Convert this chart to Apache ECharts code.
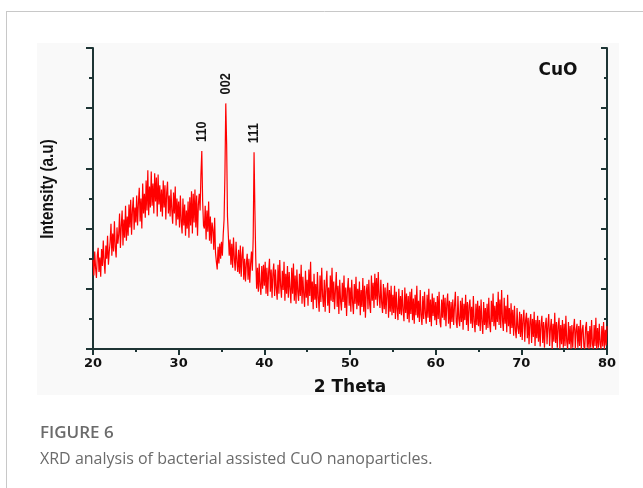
<!DOCTYPE html>
<html>
<head>
<meta charset="utf-8">
<script src="https://cdn.jsdelivr.net/npm/echarts@6/dist/echarts.min.js"></script>
<style>
html,body{margin:0;padding:0;background:#fff;}
#c{width:643px;height:488px;}
</style>
</head>
<body>
<div id="c"></div>
<script>
// ---- data ----
const thetaStart = 20;
const thetaStep = 0.1;
const intensity = [
1.48,1.22,1.62,1.35,1.18,1.55,1.68,1.28,1.52,1.20,
1.66,1.38,1.80,1.45,1.25,1.72,1.50,1.88,1.40,1.62,
1.78,2.08,1.55,1.92,1.62,2.12,1.70,1.52,2.02,1.75,
1.90,2.25,1.68,2.05,2.30,1.72,2.15,1.85,2.38,1.80,
2.20,1.88,2.40,2.02,2.48,1.90,2.30,2.52,1.98,2.35,
2.10,2.55,2.05,2.42,2.68,2.12,2.50,2.00,2.75,2.25,
2.58,2.18,2.80,2.30,2.97,2.22,2.70,2.35,2.95,2.38,
2.75,2.25,2.92,2.45,2.85,2.20,2.90,2.40,2.72,2.28,
2.65,2.20,2.80,2.35,2.72,2.15,2.60,2.78,2.25,2.55,
2.20,2.65,2.30,2.08,2.60,2.25,2.70,2.05,2.50,2.15,
2.45,2.02,2.55,2.12,1.92,2.50,2.05,2.40,1.88,2.30,
2.00,2.45,1.85,2.52,2.05,2.62,1.92,2.58,2.10,2.65,
2.02,2.55,1.88,2.40,2.58,2.30,2.90,3.29,2.45,2.05,
2.00,2.38,1.82,2.30,1.95,2.45,1.80,2.20,1.75,2.10,
1.98,1.65,2.18,1.60,1.45,1.32,1.70,1.42,1.75,1.50,
1.78,1.55,1.90,2.15,2.90,4.08,3.40,2.20,1.88,1.55,
1.82,1.40,1.75,1.35,1.85,1.50,1.30,1.78,1.45,1.28,
1.65,1.25,1.72,1.20,1.55,1.70,1.15,1.50,1.12,1.42,
1.58,1.15,1.50,1.10,1.42,1.62,1.30,1.85,3.27,2.30,
1.50,1.00,1.35,0.95,1.42,1.05,0.90,1.38,1.00,1.40,
1.05,1.45,0.92,1.35,0.88,1.28,1.50,0.95,1.32,0.85,
1.25,1.42,0.88,1.32,1.00,0.82,1.40,0.92,1.48,1.05,
0.85,1.30,0.98,1.45,0.80,1.25,0.92,1.38,0.85,1.28,
1.00,0.76,1.35,0.92,1.42,0.80,1.22,0.75,1.32,0.95,
0.80,1.25,0.88,1.40,0.75,1.20,0.90,0.70,1.30,0.85,
1.15,0.72,1.32,0.88,1.45,0.78,1.12,0.66,1.25,0.82,
1.08,0.68,1.28,0.85,0.62,1.22,0.78,1.35,0.88,0.70,
1.15,0.62,1.05,1.30,0.72,1.02,0.60,1.22,0.80,1.35,
0.78,1.12,0.66,0.98,1.28,0.70,1.05,0.58,1.15,0.80,
0.64,1.10,0.78,1.22,0.68,1.02,0.55,0.98,1.18,0.72,
1.02,0.62,1.15,0.78,0.58,1.08,0.75,1.20,0.66,1.00,
0.72,1.12,0.56,0.98,0.70,1.18,0.62,1.05,0.52,0.96,
1.08,0.66,1.15,0.74,0.60,1.22,0.80,1.10,0.68,1.25,
0.82,1.18,0.72,1.28,0.88,0.68,1.15,0.76,0.60,1.08,
0.66,1.02,0.58,0.92,1.10,0.52,0.98,0.62,1.05,0.56,
0.90,0.60,1.05,0.50,0.95,0.66,0.48,1.00,0.58,0.88,
0.56,0.98,0.64,0.46,1.02,0.60,0.92,0.50,0.88,0.44,
0.95,0.58,1.00,0.48,0.84,0.42,0.90,0.56,1.05,0.52,
0.80,0.45,0.98,0.56,0.40,0.88,0.50,0.95,0.60,0.42,
0.90,0.52,1.00,0.45,0.82,0.38,0.92,0.55,0.85,0.48,
0.78,0.40,0.88,0.50,0.95,0.45,0.36,0.82,0.52,0.90,
0.48,0.85,0.38,0.75,0.92,0.42,0.80,0.34,0.78,0.45,
0.82,0.40,0.72,0.95,0.45,0.35,0.88,0.50,0.38,0.80,
0.45,0.85,0.32,0.75,0.48,0.90,0.40,0.78,0.30,0.72,
0.82,0.42,0.70,0.35,0.88,0.45,0.28,0.75,0.40,0.80,
0.38,0.72,0.30,0.82,0.45,0.25,0.78,0.40,0.68,0.32,
0.75,0.35,0.85,0.42,0.28,0.80,0.45,0.92,0.38,0.72,
0.32,0.78,0.45,0.95,0.40,0.82,0.35,0.98,0.48,0.30,
0.85,0.42,0.72,0.28,0.90,0.38,0.68,0.25,0.76,0.35,
0.65,0.22,0.72,0.32,0.18,0.68,0.35,0.25,0.62,0.20,
0.58,0.15,0.50,0.65,0.12,0.48,0.60,0.18,0.52,0.08,
0.45,0.58,0.10,0.50,0.20,0.62,0.05,0.48,0.18,0.55,
0.12,0.48,0.04,0.42,0.55,0.10,0.45,0.02,0.38,0.52,
0.08,0.40,0.58,0.05,0.35,0.50,0.00,0.42,0.12,0.60,
0.10,0.45,0.02,0.38,0.52,0.00,0.40,0.08,0.48,0.02,
0.42,0.05,0.55,0.12,0.00,0.45,0.08,0.38,0.00,0.40,
0.02,0.35,0.50,0.00,0.32,0.42,0.02,0.38,0.05,0.48,
0.00,0.32,0.40,0.04,0.00,0.35,0.45,0.02,0.30,0.00,
0.38,0.02,0.48,0.08,0.00,0.40,0.05,0.52,0.00,0.35,
0.02,0.42,0.08,0.00,0.38,0.04,0.45,0.00,0.32,0.06,
0.38
];
const peakAngles = [32.7, 35.5, 38.8];
const peakLabels = ['110', '002', '111'];
const sampleLabel = 'CuO';
const xName = '2 Theta';
const yName = 'Intensity (a.u)';
const captionTitle = 'FIGURE 6';
const captionText = 'XRD analysis of bacterial assisted CuO nanoparticles.';

// ---- build ----
const seriesData = intensity.map((v, i) => [+(thetaStart + i * thetaStep).toFixed(2), v]);
const axisColor = '#1e3535';
const chart = echarts.init(document.getElementById('c'), null, {renderer: 'canvas'});

const baseAxisLine = {show: true, lineStyle: {color: axisColor, width: 2}};
const option = {
  animation: false,
  backgroundColor: '#ffffff',
  grid: {left: 93, right: 36, top: 48, bottom: 139, containLabel: false},
  xAxis: [{
    type: 'value', min: 20, max: 80, interval: 10, position: 'bottom',
    axisLine: baseAxisLine,
    axisTick: {show: true, inside: false, length: 6, lineStyle: {color: axisColor, width: 2}},
    minorTick: {show: true, splitNumber: 2, length: 3, lineStyle: {color: axisColor, width: 2}},
    splitLine: {show: false},
    axisLabel: {margin: 8, color: '#111', fontFamily: 'DejaVu Sans', fontWeight: 'bold', fontSize: 13},
    name: xName, nameLocation: 'middle', nameGap: 30,
    nameTextStyle: {color: '#111', fontFamily: 'DejaVu Sans', fontWeight: 'bold', fontSize: 17}
  }, {
    type: 'value', min: 20, max: 80, interval: 10, position: 'top',
    axisLine: baseAxisLine,
    axisTick: {show: true, inside: true, length: 6, lineStyle: {color: axisColor, width: 2}},
    minorTick: {show: true, splitNumber: 2, length: 3, lineStyle: {color: axisColor, width: 2}},
    splitLine: {show: false},
    axisLabel: {show: false}
  }],
  yAxis: [{
    type: 'value', min: 0, max: 5, interval: 1, position: 'left',
    axisLine: baseAxisLine,
    axisTick: {show: true, inside: false, length: 7, lineStyle: {color: axisColor, width: 2}},
    minorTick: {show: true, splitNumber: 2, length: 4, lineStyle: {color: axisColor, width: 2}},
    splitLine: {show: false},
    axisLabel: {show: false}
  }, {
    type: 'value', min: 0, max: 5, interval: 1, position: 'right',
    axisLine: baseAxisLine,
    axisTick: {show: true, inside: true, length: 6, lineStyle: {color: axisColor, width: 2}},
    minorTick: {show: true, splitNumber: 2, length: 3, lineStyle: {color: axisColor, width: 2}},
    splitLine: {show: false},
    axisLabel: {show: false}
  }],
  series: [{
    type: 'line', xAxisIndex: 0, yAxisIndex: 0,
    data: seriesData, showSymbol: false, symbol: 'none', clip: true,
    lineStyle: {color: '#ff0000', width: 1.2},
    z: 1
  }]
};
chart.setOption(option);

// graphics: figure frame, caption, annotations
const g = [];
g.push({type: 'rect', shape: {x: 37, y: 43, width: 582, height: 352}, style: {fill: '#f9f9f9'}, z: -10, silent: true});
g.push({type: 'line', shape: {x1: 6, y1: 11.5, x2: 643, y2: 11.5}, style: {stroke: '#c8c8c8', lineWidth: 1}, z: -5});
g.push({type: 'line', shape: {x1: 6.5, y1: 11, x2: 6.5, y2: 488}, style: {stroke: '#c8c8c8', lineWidth: 1}, z: -5});
g.push({type: 'text', x: 40, y: 433, style: {text: captionTitle, fill: '#6b6b6b', font: '600 17px "Open Sans"', verticalAlign: 'middle', align: 'left'}});
g.push({type: 'text', x: 40, y: 459, style: {text: captionText, fill: '#6b6b6b', font: '16px "Open Sans"', verticalAlign: 'middle', align: 'left'}});
g.push({type: 'text', x: 558, y: 71, style: {text: sampleLabel, fill: '#111', font: 'bold 17px "DejaVu Sans"', align: 'center', verticalAlign: 'middle'}, z: 10});
// y axis title (condensed bold)
g.push({type: 'text', x: 48, y: 189, rotation: Math.PI / 2, scaleX: 0.85,
  style: {text: yName, fill: '#111', font: 'bold 18px "Liberation Sans"', align: 'center', verticalAlign: 'middle'}, z: 10});
peakAngles.forEach((ang, k) => {
  const idx = Math.round((ang - thetaStart) / thetaStep);
  const p = chart.convertToPixel({xAxisIndex: 0, yAxisIndex: 0}, [ang, intensity[idx]]);
  g.push({type: 'text', x: p[0], y: p[1] - 9, rotation: Math.PI / 2, scaleX: 0.85,
    style: {text: peakLabels[k], fill: '#151515', font: 'bold 15px "Liberation Sans"', align: 'left', verticalAlign: 'middle'}, z: 10});
});
chart.setOption({graphic: g});
</script>
</body>
</html>
